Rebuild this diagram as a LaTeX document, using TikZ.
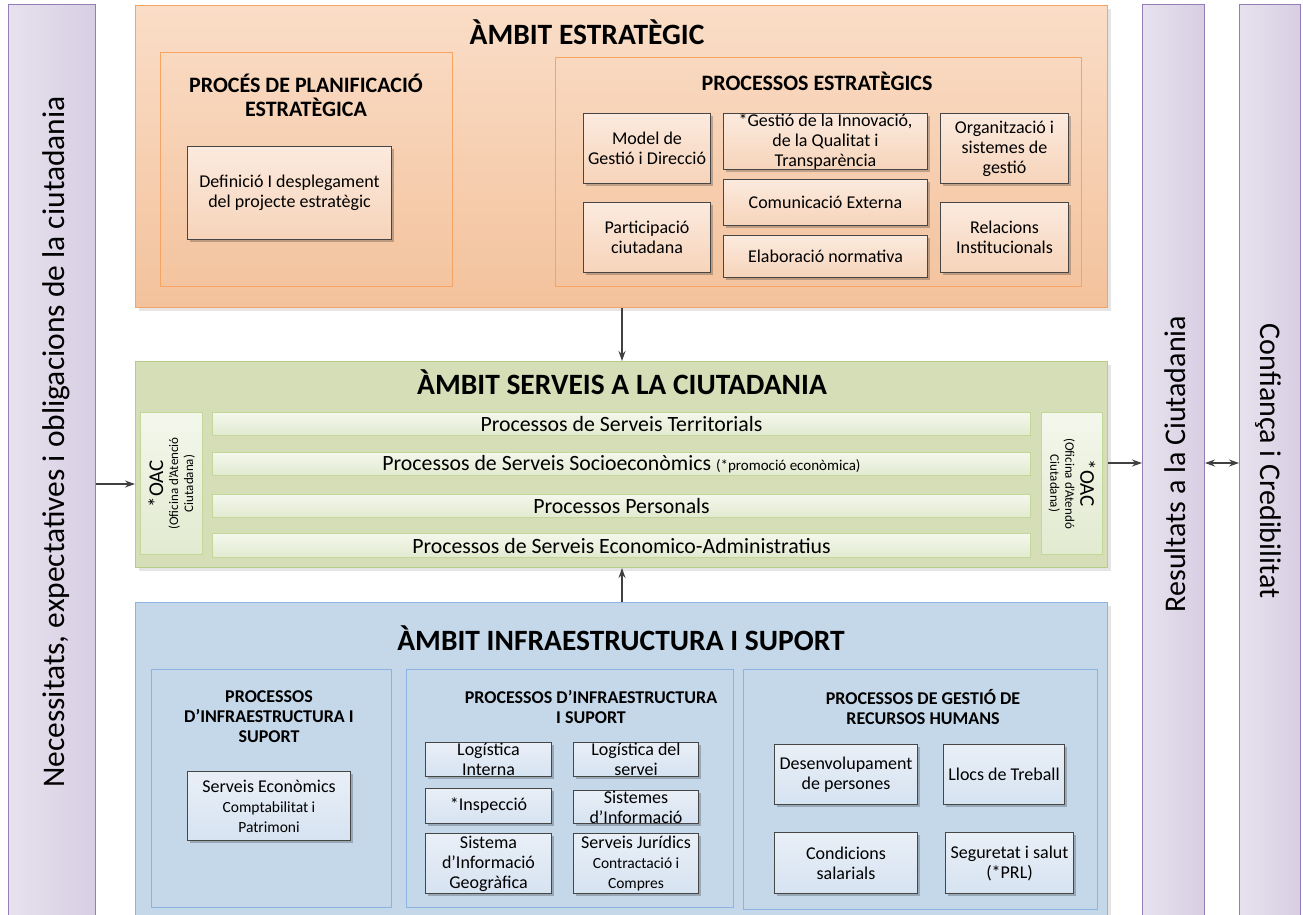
\documentclass[tikz,border=0pt]{standalone}
\usepackage{fontspec}
\setmainfont{Carlito}
\usetikzlibrary{arrows.meta,shadows}
\definecolor{orfillT}{RGB}{250,221,199}
\definecolor{orfillB}{RGB}{243,194,156}
\definecolor{orline}{RGB}{246,164,100}
\definecolor{orinT}{RGB}{252,234,222}
\definecolor{orinB}{RGB}{246,212,186}
\definecolor{grfill}{RGB}{213,222,182}
\definecolor{grline}{RGB}{184,204,138}
\definecolor{grbarT}{RGB}{244,247,236}
\definecolor{grbarB}{RGB}{226,234,208}
\definecolor{grbarline}{RGB}{196,215,155}
\definecolor{blfill}{RGB}{197,216,234}
\definecolor{blline}{RGB}{141,179,226}
\definecolor{blinT}{RGB}{233,239,247}
\definecolor{blinB}{RGB}{214,227,241}
\definecolor{pufillL}{RGB}{231,226,238}
\definecolor{pufillR}{RGB}{215,206,227}
\definecolor{puline}{RGB}{150,125,185}
\definecolor{boxline}{RGB}{70,70,70}
\definecolor{arrowc}{RGB}{64,64,64}
\newcommand\fsz[2]{\fontsize{#1}{#2}\selectfont}
\newcommand\mybox[7]{%
  \node[#6,anchor=north west,minimum width={(#4-#2)*1pt},minimum height={(#5-#3)*1pt}] (#1) at (#2,#3) {};%
  \node[txt] (#1-t) at (#1.center) {#7};}
\begin{document}
\begin{tikzpicture}[x=1pt,y=-1pt,
  every node/.style={inner sep=0pt},
  txt/.style={align=center,inner sep=0pt,font=\fsz{18}{20}},
  shad/.style={drop shadow={shadow xshift=2.5pt,shadow yshift=-2.5pt,fill=black,opacity=0.22}},
  lshad/.style={drop shadow={shadow xshift=3pt,shadow yshift=-3pt,fill=black,opacity=0.10}},
  outerO/.style={draw=orline,line width=1pt,top color=orfillT,bottom color=orfillB,lshad},
  subO/.style={draw=orline,line width=1.2pt},
  innerO/.style={draw=boxline,line width=1pt,top color=orinT,bottom color=orinB,shad},
  outerG/.style={draw=grline,line width=1pt,fill=grfill,lshad},
  barG/.style={draw=grbarline,line width=1pt,top color=grbarT,bottom color=grbarB},
  outerB/.style={draw=blline,line width=1pt,fill=blfill,lshad},
  subB/.style={draw=blline,line width=1.2pt},
  innerB/.style={draw=boxline,line width=1pt,top color=blinT,bottom color=blinB,shad},
  sideP/.style={draw=puline,line width=1pt,left color=pufillL,right color=pufillR},
  ttl/.style={font=\bfseries\fsz{29.5}{32}},
  sttl/.style={align=center,font=\bfseries\fsz{22}{24}},
  bttl/.style={align=center,font=\bfseries\fsz{18}{20}},
  sidetxt/.style={font=\fsz{30}{34}},
  arr/.style={draw=arrowc,line width=1.2pt,-{Stealth[length=10pt,width=7pt]}},
  darr/.style={draw=arrowc,line width=1.2pt,{Stealth[length=10pt,width=7pt]}-{Stealth[length=10pt,width=7pt]}}
]
\useasboundingbox[fill=white] (0,0) rectangle (1303,914);
% side bars
\mybox{lbar}{8}{4}{95}{920}{sideP}{}
\node[sidetxt,font=\fsz{31.5}{34},rotate=90] (lbar-text) at (56,442) {Necessitats, expectatives i obligacions de la ciutadania};
\mybox{rbar}{1142}{4}{1204}{920}{sideP}{}
\node[sidetxt,rotate=90] (rbar-text) at (1175,464) {Resultats a la Ciutadania};
\mybox{cbar}{1239}{4}{1300}{920}{sideP}{}
\node[sidetxt,rotate=-90] (cbar-text) at (1268,461) {Confiança i Credibilitat};
% strategic
\mybox{strat}{135}{5}{1107}{307}{outerO}{}
\node[ttl] (strat-title) at (587,32) {ÀMBIT ESTRATÈGIC};
\mybox{planif}{160}{52}{452}{286}{subO}{}
\node[sttl] (planif-title) at (306,95) {PROCÉS DE PLANIFICACIÓ\\ESTRATÈGICA};
\mybox{defin}{187}{146}{391}{239}{innerO}{Definició I desplegament\\del projecte estratègic}
\mybox{pest}{555}{57}{1081}{286}{subO}{}
\node[sttl] (pest-title) at (817,81) {PROCESSOS ESTRATÈGICS};
\mybox{model}{583}{113}{710}{183}{innerO}{Model de\\Gestió i Direcció}
\mybox{innov}{723}{113}{927}{169}{innerO}{\fsz{18}{19}*Gestió de la Innovació,\\de la Qualitat i\\Transparència}
\mybox{comext}{723}{179}{927}{225}{innerO}{Comunicació Externa}
\mybox{elab}{723}{235}{927}{277}{innerO}{Elaboració normativa}
\mybox{organ}{940}{113}{1068}{183}{innerO}{\fsz{18}{19}Organització i\\sistemes de\\gestió}
\mybox{partic}{583}{202}{710}{272}{innerO}{Participació\\ciutadana}
\mybox{relac}{940}{202}{1068}{272}{innerO}{Relacions\\Institucionals}
% services
\mybox{serv}{135}{361}{1107}{567}{outerG}{}
\node[ttl] (serv-title) at (622,382) {ÀMBIT SERVEIS A LA CIUTADANIA};
\mybox{oacL}{140}{412}{202}{554}{barG}{}
\node[align=center,rotate=90,font=\fsz{13}{15}] (oacL-text) at (oacL.center) {{\fsz{21}{21}*OAC}\\(Oficina d’Atenció\\Ciutadana)};
\mybox{oacR}{1041}{412}{1102}{554}{barG}{}
\node[align=center,rotate=-90,font=\fsz{13}{15}] (oacR-text) at (oacR.center) {{\fsz{21}{21}*OAC}\\(Oficina d’Atendó\\Ciutadana)};
\mybox{bar1}{212}{412}{1030}{435}{barG}{\fsz{21.8}{24}Processos de Serveis Territorials}
\mybox{bar2}{212}{452}{1030}{475}{barG}{\fsz{21.8}{24}Processos de Serveis Socioeconòmics {\fsz{15}{16}(*promoció econòmica)}}
\mybox{bar3}{212}{494}{1030}{517}{barG}{\fsz{21.8}{24}Processos Personals}
\mybox{bar4}{212}{533}{1030}{557}{barG}{\fsz{21.8}{24}Processos de Serveis Economico-Administratius}
% infrastructure
\mybox{infra}{135}{602}{1107}{925}{outerB}{}
\node[ttl] (infra-title) at (621,638) {ÀMBIT INFRAESTRUCTURA I SUPORT};
\mybox{isub1}{151}{669}{391}{907}{subB}{}
\node[bttl] (isub1-title) at (269,717) {PROCESSOS\\D’INFRAESTRUCTURA I\\SUPORT};
\mybox{secon}{187}{771}{350}{840}{innerB}{Serveis Econòmics\\{\fsz{15.5}{18}Comptabilitat i}\\{\fsz{15.5}{18}Patrimoni}}
\mybox{isub2}{406}{669}{733}{907}{subB}{}
\node[bttl] (isub2-title) at (591,707) {PROCESSOS D’INFRAESTRUCTURA\\I SUPORT};
\mybox{logint}{425}{742}{551}{776}{innerB}{Logística\\Interna}
\mybox{insp}{425}{788}{551}{823}{innerB}{*Inspecció}
\mybox{sig}{425}{833}{551}{893}{innerB}{\fsz{18}{19.5}Sistema\\d’Informació\\Geogràfica}
\mybox{logserv}{573}{742}{698}{776}{innerB}{Logística del\\servei}
\mybox{sistinf}{573}{790}{698}{823}{innerB}{\fsz{18}{19}Sistemes\\d’Informació}
\mybox{jurid}{573}{833}{698}{893}{innerB}{Serveis Jurídics\\{\fsz{15.5}{19}Contractació i}\\{\fsz{15.5}{19}Compres}}
\mybox{isub3}{743}{669}{1097}{909}{subB}{}
\node[bttl] (isub3-title) at (923,707) {PROCESSOS DE GESTIÓ DE\\RECURSOS HUMANS};
\mybox{desen}{774}{744}{917}{804}{innerB}{Desenvolupament\\de persones}
\mybox{llocs}{943}{744}{1064}{804}{innerB}{Llocs de Treball}
\mybox{condic}{774}{832}{917}{893}{innerB}{Condicions\\salarials}
\mybox{segur}{945}{832}{1073}{893}{innerB}{Seguretat i salut\\(*PRL)}
% connectors
\coordinate (vx) at (622,0);
\coordinate (ly) at (0,484);
\coordinate (ry) at (0,463);
\draw[arr] (vx |- strat.south) -- (vx |- serv.north);
\draw[arr] (vx |- infra.north) -- (vx |- serv.south);
\draw[arr] (lbar.east |- ly) -- (serv.west |- ly);
\draw[arr] (serv.east |- ry) -- (rbar.west |- ry);
\draw[darr] (rbar.east |- ry) -- (cbar.west |- ry);
\end{tikzpicture}
\end{document}
